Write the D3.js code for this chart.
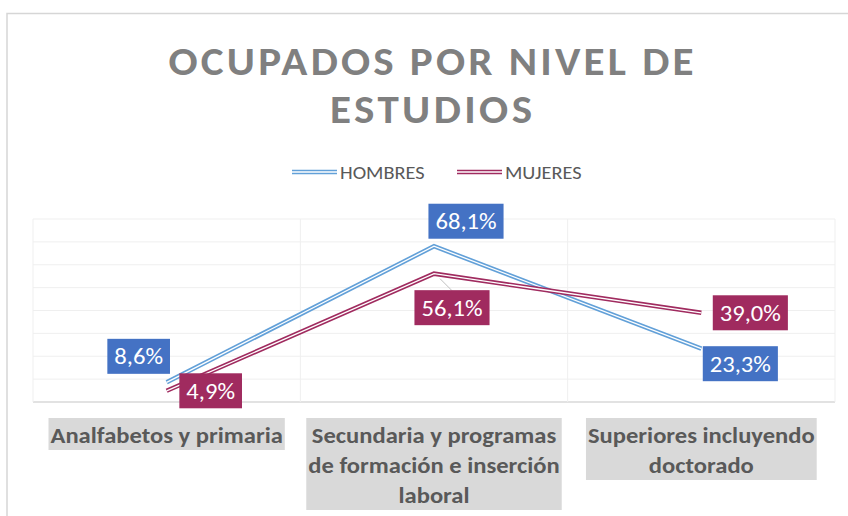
<!DOCTYPE html>
<html lang="es">

<head>
    <meta charset="utf-8">
    <title>Ocupados por nivel de estudios</title>
    <script type="text/javascript" src="https://d3js.org/d3.v7.min.js"></script>
    <style type="text/css">
        body { margin: 0; background: #fff; }
        text { font-family: Carlito, "Open Sans", "Noto Sans", sans-serif; }
    </style>
</head>

<body>
    <script type="text/javascript">
        //Chart data
        const categoryLines = [
            ["Analfabetos y primaria"],
            ["Secundaria y programas", "de formación e inserción", "laboral"],
            ["Superiores incluyendo", "doctorado"]
        ];
        const categories = categoryLines.map(l => l.join(" "));
        const seriesNames = ["HOMBRES", "MUJERES"];
        const hombres = [8.6, 68.1, 23.3];
        const mujeres = [4.9, 56.1, 39.0];
        const yTicks = [0, 10, 20, 30, 40, 50, 60, 70, 80];

        //Canvas and layout
        const canvasWidth = 848;
        const canvasHeight = 516;
        const plot = { left: 33, right: 835, top: 219, bottom: 402 };
        const stretch = 1.07; //reference text is slightly wider than the font

        const lineColors = ["#62A0D8", "#A02B5F"];
        const labelFills = ["#4472C4", "#A02B5F"];

        //Label offsets from the point (box centre), one per series/category
        const labelOffsets = [
            [[-28, -26], [32, -25], [39, 15]],
            [[44, 0], [18, 34], [49, 0]]
        ];

        const fmt = v => d3.format(".1f")(v).replace(".", ",") + "%";

        const xScale = d3.scaleBand()
            .domain(categories)
            .range([plot.left, plot.right])
        const yScale = d3.scaleLinear()
            .domain([0, 80])
            .range([plot.bottom, plot.top])
        const xc = c => xScale(c) + xScale.bandwidth() / 2;

        //Place a stretched text element at x,y
        function addText(parent, x, y, str, sx) {
            return parent.append('text')
                .attr('transform', 'translate(' + x + ',' + y + ') scale(' + (sx || stretch) + ',1)')
                .text(str)
        }

        const svg = d3.select('body')
            .append('svg')
            .attr('width', canvasWidth)
            .attr('height', canvasHeight)

        //Chart border
        svg.append('rect')
            .attr('x', 7).attr('y', 13.5)
            .attr('width', canvasWidth).attr('height', canvasHeight)
            .attr('fill', 'none')
            .attr('stroke', '#d6d6d6')
            .attr('stroke-width', 1.5)

        //Title
        const titleStretch = 1.05;
        const title = svg.append('g')
        ;[["OCUPADOS POR NIVEL DE", 74.5, 525], ["ESTUDIOS", 122.5, 202]].forEach(([t, y, w]) => {
            addText(title, 431, y, t, titleStretch)
                .attr('text-anchor', 'middle')
                .attr('font-size', 41)
                .attr('font-weight', 'bold')
                .attr('fill', '#808080')
                .attr('textLength', w / titleStretch)
                .attr('lengthAdjust', 'spacing')
        })

        //Legend
        const legendX = [292, 457];
        seriesNames.forEach((name, i) => {
            const g = svg.append('g').attr('transform', 'translate(' + legendX[i] + ',172)')
            g.append('line').attr('x1', 0).attr('x2', 45).attr('stroke', lineColors[i]).attr('stroke-width', 4.5)
            g.append('line').attr('x1', 0).attr('x2', 45).attr('stroke', '#fff').attr('stroke-width', 1.3)
            addText(g, 48, 6.5, name)
                .attr('font-size', 19)
                .attr('fill', '#595959')
        })

        //Gridlines
        const grid = svg.append('g')
        grid.selectAll('line.h')
            .data(yTicks)
            .enter()
            .append('line')
            .attr('x1', plot.left).attr('x2', plot.right)
            .attr('y1', d => yScale(d)).attr('y2', d => yScale(d))
            .attr('stroke', d => d === 0 ? '#d9d9d9' : '#efefef')
            .attr('stroke-width', d => d === 0 ? 1.5 : 1)
        const edges = categories.map(c => xScale(c)).concat([plot.right])
        grid.selectAll('line.v')
            .data(edges)
            .enter()
            .append('line')
            .attr('x1', d => d).attr('x2', d => d)
            .attr('y1', plot.top).attr('y2', plot.bottom)
            .attr('stroke', '#efefef')

        //Lines (compound: coloured outer, white inner)
        const line = d3.line()
            .x((d, i) => xc(categories[i]))
            .y(d => yScale(d))
        const series = [hombres, mujeres];
        series.forEach((vals, s) => {
            svg.append('path').datum(vals).attr('d', line)
                .attr('fill', 'none').attr('stroke', lineColors[s]).attr('stroke-width', 4.5)
            svg.append('path').datum(vals).attr('d', line)
                .attr('fill', 'none').attr('stroke', '#fff').attr('stroke-width', 1.3)
        })

        //Leader line for 56,1%
        svg.append('line')
            .attr('x1', xc(categories[1]) + 6).attr('y1', yScale(mujeres[1]) + 5)
            .attr('x2', xc(categories[1]) + 18).attr('y2', yScale(mujeres[1]) + 17)
            .attr('stroke', '#bfbfbf').attr('stroke-width', 1)

        //Data labels
        series.forEach((vals, s) => {
            vals.forEach((v, i) => {
                const cx = xc(categories[i]) + labelOffsets[s][i][0];
                const cy = yScale(v) + labelOffsets[s][i][1];
                const g = svg.append('g')
                const rect = g.append('rect').attr('fill', labelFills[s])
                const t = addText(g, cx, cy + 8, fmt(v))
                    .attr('text-anchor', 'middle')
                    .attr('font-size', 23)
                    .attr('fill', '#fff')
                const w = t.node().getComputedTextLength() * stretch + 14;
                rect.attr('x', cx - w / 2).attr('y', cy - 17.5).attr('width', w).attr('height', 35)
            })
        })

        //Category labels with grey backgrounds
        categoryLines.forEach((lines, i) => {
            const cx = xc(categories[i]);
            const g = svg.append('g')
            const rect = g.append('rect').attr('fill', '#d9d9d9')
            let maxW = 0;
            lines.forEach((l, j) => {
                const t = addText(g, cx, 443 + j * 30, l)
                    .attr('text-anchor', 'middle')
                    .attr('font-size', 23)
                    .attr('font-weight', 'bold')
                    .attr('fill', '#595959')
                maxW = Math.max(maxW, t.node().getComputedTextLength() * stretch)
            })
            rect.attr('x', cx - maxW / 2 - 2).attr('y', 418)
                .attr('width', maxW + 4).attr('height', lines.length * 30 + 2)
        })
    </script>
</body>

</html>
